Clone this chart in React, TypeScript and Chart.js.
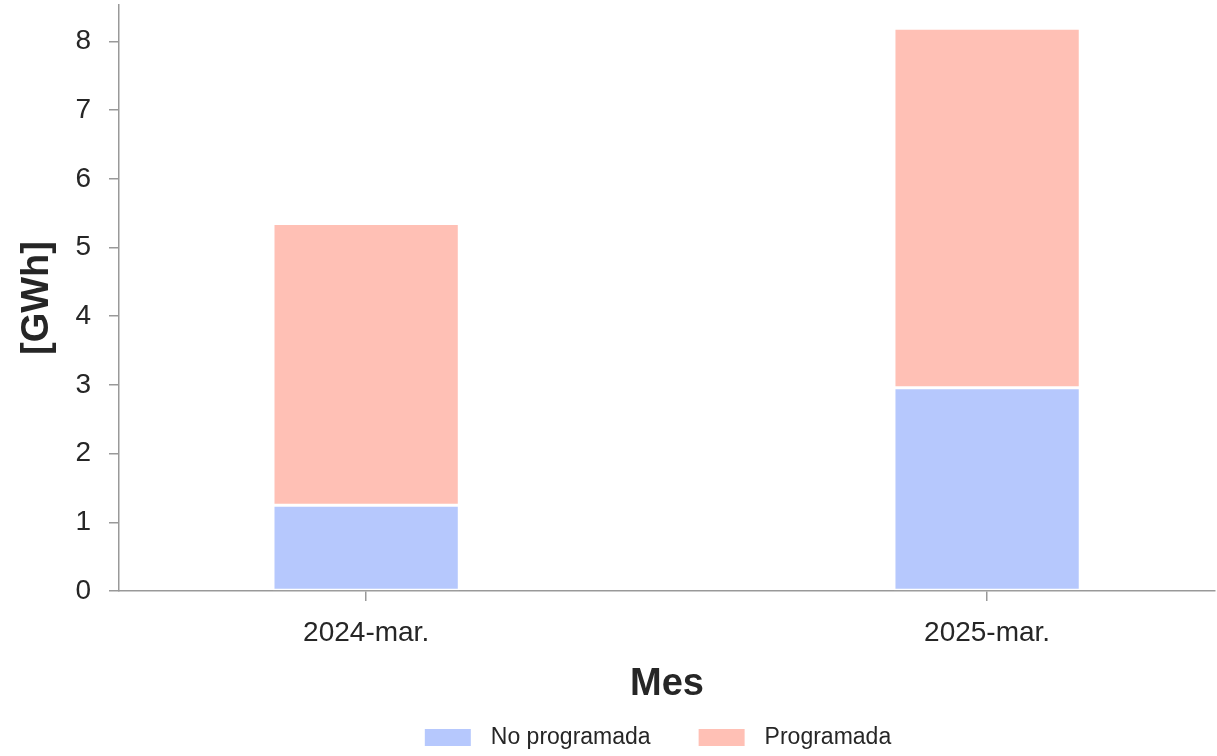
import React, { useEffect, useRef } from "react";
import { Chart, registerables } from "chart.js";

Chart.register(...registerables);

const categories = ["2024-mar.", "2025-mar."];
const noProgramada = [1.25, 2.96];
const programada = [4.1, 5.23];
const yTicks = [0, 1, 2, 3, 4, 5, 6, 7, 8];
const seriesLabels = ["No programada", "Programada"];
const seriesColors = ["#b6c8fd", "#ffc0b5"];

const FONT = "'Liberation Sans', Arial, sans-serif";

const legendPlugin = {
  id: "customLegend",
  afterDraw(chart: any) {
    const ctx = chart.ctx;
    ctx.save();
    ctx.font = `23px ${FONT}`;
    ctx.textBaseline = "middle";
    ctx.textAlign = "left";
    const boxW = 46;
    const boxH = 17;
    const gapText = 20;
    const gapItem = 48;
    const widths = chart.data.datasets.map(
      (d: any) => boxW + gapText + ctx.measureText(d.label).width
    );
    const total = widths.reduce((a: number, b: number) => a + b, 0) + gapItem * (widths.length - 1);
    const area = chart.chartArea;
    let x = (area.left + area.right) / 2 - total / 2 - 9;
    const cy = 737.5;
    chart.data.datasets.forEach((d: any, i: number) => {
      ctx.fillStyle = d.backgroundColor;
      ctx.fillRect(x, cy - boxH / 2, boxW, boxH);
      ctx.fillStyle = "#262626";
      ctx.fillText(d.label, x + boxW + gapText, cy);
      x += widths[i] + gapItem;
    });
    ctx.restore();
  },
};

export default function App() {
  const ref = useRef<HTMLCanvasElement | null>(null);
  useEffect(() => {
    document.body.style.margin = "0";
    const ctx = ref.current!;
    const series = [noProgramada, programada];
    const chart = new Chart(ctx, {
      type: "bar",
      data: {
        datasets: series.map((vals, s) => ({
          label: seriesLabels[s],
          data: vals.map((v, i) => ({ x: i, y: v })),
          backgroundColor: seriesColors[s],
          borderColor: "rgba(255,255,255,0.75)",
          borderWidth: 1.5,
          borderSkipped: false,
        })),
      },
      plugins: [legendPlugin],
      options: {
        animation: false,
        responsive: true,
        maintainAspectRatio: false,
        barPercentage: 0.3,
        categoryPercentage: 1,
        layout: { padding: { top: 5, right: 2, left: 0, bottom: 0 } },
        plugins: {
          legend: { display: false },
          tooltip: { enabled: false },
        },
        scales: {
          x: {
            type: "linear",
            stacked: true,
            offset: false,
            min: -0.398,
            max: 1.367,
            afterBuildTicks: (scale: any) => {
              scale.ticks = categories.map((_, i) => ({ value: i }));
            },
            afterFit: (scale: any) => {
              scale.height = 165;
              scale.paddingLeft = 0;
              scale.paddingRight = 0;
            },
            ticks: {
              callback: (v: any) => categories[v as number] ?? "",
              color: "#262626",
              font: { family: FONT, size: 28 },
              padding: 15,
              maxRotation: 0,
              autoSkip: false,
            },
            grid: {
              offset: false,
              drawOnChartArea: false,
              drawTicks: true,
              tickLength: 10,
              color: "#999",
              lineWidth: 1.5,
            },
            border: { display: true, color: "#999", width: 1.5 },
            title: {
              display: true,
              text: "Mes",
              color: "#262626",
              font: { family: FONT, size: 38, weight: "bold" },
              padding: { top: 0, bottom: 49 },
            },
          },
          y: {
            stacked: true,
            min: 0,
            max: 8.53,
            afterBuildTicks: (scale: any) => {
              scale.ticks = yTicks.map((v) => ({ value: v }));
            },
            afterFit: (scale: any) => {
              scale.width = 119;
              scale.paddingTop = 0;
              scale.paddingBottom = 0;
            },
            ticks: {
              color: "#262626",
              font: { family: FONT, size: 28 },
              padding: 18,
            },
            grid: {
              drawOnChartArea: false,
              drawTicks: true,
              tickLength: 10,
              color: "#999",
              lineWidth: 1.5,
            },
            border: { display: true, color: "#999", width: 1.5 },
            title: {
              display: true,
              text: "[GWh]",
              color: "#262626",
              font: { family: FONT, size: 38, weight: "bold" },
              padding: { top: 15, bottom: 0 },
            },
          },
        },
      },
    });
    return () => chart.destroy();
  }, []);
  return (
    <div style={{ position: "fixed", left: 0, top: 0, width: 1217, height: 756, background: "#fff" }}>
      <canvas ref={ref} />
    </div>
  );
}
